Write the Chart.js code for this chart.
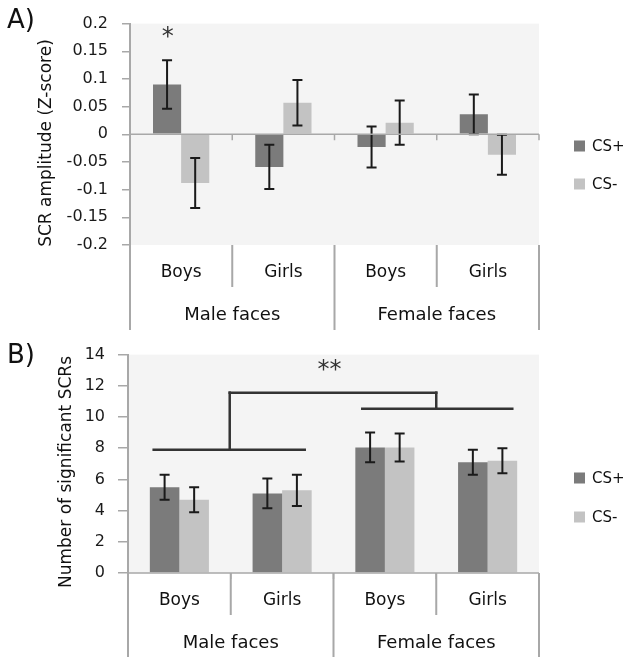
<!DOCTYPE html>
<html>
<head>
<meta charset="utf-8">
<script src="https://cdn.jsdelivr.net/npm/chart.js@4.4.1/dist/chart.umd.min.js"></script>
<style>
body { margin: 0; background: #fff; }
#wrap { width: 632px; height: 665px; position: relative; }
.panel { position: absolute; left: 0; width: 632px; }
#pA { top: 0; height: 332px; }
#pB { top: 332px; height: 333px; }
</style>
</head>
<body>
<div id="wrap">
  <div class="panel" id="pA"><canvas id="chartA" width="632" height="332"></canvas></div>
  <div class="panel" id="pB"><canvas id="chartB" width="632" height="333"></canvas></div>
</div>
<script>
// --- DATA ---
const subgroups = ['Boys', 'Girls', 'Boys', 'Girls'];
const faceGroups = ['Male faces', 'Female faces'];
const seriesNames = ['CS+', 'CS-'];

// A) SCR amplitude (Z-score)
const ampCSplus = [0.09, -0.059, -0.023, 0.036];
const ampCSminus = [-0.088, 0.057, 0.021, -0.037];
const ampErrPlus = [0.044, 0.04, 0.037, 0.036];
const ampErrMinus = [0.045, 0.041, 0.04, 0.036];
const ampTicks = ['-0.2', '-0.15', '-0.1', '-0.05', '0', '0.05', '0.1', '0.15', '0.2'];
const ampStars = [{ text: '*', x: -0.13, y: 0.184 }];

// B) Number of significant SCRs
const nCSplus = [5.5, 5.1, 8.05, 7.1];
const nCSminus = [4.7, 5.3, 8.05, 7.2];
const nErrPlus = [0.8, 0.95, 0.95, 0.8];
const nErrMinus = [0.8, 1.0, 0.9, 0.8];
const nTicks = ['0', '2', '4', '6', '8', '10', '12', '14'];
const nStars = [{ text: '**', x: 1.46, y: 13.36 }];
// bracket segments [x1, y1, x2, y2] in category / value units
const nBrackets = [
    [-0.25, 7.9, 1.22, 7.9],
    [0.49, 7.9, 0.49, 11.56],
    [0.49, 11.56, 2.5, 11.56],
    [2.5, 11.56, 2.5, 10.53],
    [1.78, 10.53, 3.24, 10.53]
];

const FONT = '"DejaVu Sans", Verdana, sans-serif';
const DARK = '#7b7b7b';
const LIGHT = '#c3c3c3';
const AXIS = '#a8a8a8';

// --- EXCEL-LIKE DECORATION PLUGIN ---
const excelPlugin = {
    id: 'excel',
    beforeDraw(chart) {
        const { ctx, chartArea: a } = chart;
        ctx.save();
        ctx.fillStyle = '#f4f4f4';
        ctx.fillRect(a.left, a.top, a.right - a.left, a.bottom - a.top);
        ctx.restore();
    },
    afterDatasetsDraw(chart) {
        const { ctx } = chart;
        const y = chart.scales.y;
        ctx.save();
        ctx.strokeStyle = '#1a1a1a';
        ctx.lineWidth = 2;
        chart.data.datasets.forEach((ds, di) => {
            chart.getDatasetMeta(di).data.forEach((bar, i) => {
                const v = ds.data[i], e = ds.errors[i];
                const y1 = y.getPixelForValue(v + e), y2 = y.getPixelForValue(v - e);
                ctx.beginPath();
                ctx.moveTo(bar.x, y1); ctx.lineTo(bar.x, y2);
                ctx.moveTo(bar.x - 5, y1); ctx.lineTo(bar.x + 5, y1);
                ctx.moveTo(bar.x - 5, y2); ctx.lineTo(bar.x + 5, y2);
                ctx.stroke();
            });
        });
        ctx.restore();
    },
    afterDraw(chart, args, o) {
        const { ctx, chartArea: a } = chart;
        const x = chart.scales.x, y = chart.scales.y;
        const y0 = y.getPixelForValue(0);
        ctx.save();

        // zero line with small ticks
        ctx.strokeStyle = AXIS;
        ctx.lineWidth = 1.5;
        ctx.beginPath();
        ctx.moveTo(a.left, y0); ctx.lineTo(a.right, y0);
        for (let k = 1; k <= subgroups.length; k++) {
            const bx = x.getPixelForValue(k - 0.5);
            ctx.moveTo(bx, y0); ctx.lineTo(bx, y0 + 6);
        }
        ctx.stroke();

        // category separators below the plot
        ctx.lineWidth = 2;
        ctx.beginPath();
        for (let k = 0; k <= subgroups.length; k++) {
            const bx = x.getPixelForValue(k - 0.5);
            const len = k % 2 === 0 ? o.outerLen : o.innerLen;
            ctx.moveTo(bx, a.bottom); ctx.lineTo(bx, a.bottom + len);
        }
        ctx.stroke();

        // category labels
        ctx.fillStyle = '#111';
        ctx.textAlign = 'center';
        ctx.textBaseline = 'middle';
        ctx.font = '17px ' + FONT;
        subgroups.forEach((s, i) => ctx.fillText(s, x.getPixelForValue(i), a.bottom + 28));
        ctx.font = '18px ' + FONT;
        faceGroups.forEach((g, i) => ctx.fillText(g, x.getPixelForValue(i * 2 + 0.5), a.bottom + 70));

        // y title
        ctx.save();
        ctx.translate(o.titleX, o.titleY);
        ctx.rotate(-Math.PI / 2);
        ctx.font = '17px ' + FONT;
        ctx.fillText(o.title, 0, 0);
        ctx.restore();

        // panel letter
        ctx.textAlign = 'left';
        ctx.font = '26px ' + FONT;
        ctx.fillText(o.panel, 7, o.panelY);

        // legend
        ctx.font = '15px ' + FONT;
        chart.data.datasets.forEach((ds, i) => {
            const ly = o.legendY[i];
            ctx.fillStyle = ds.backgroundColor;
            ctx.fillRect(574, ly - 5.5, 11, 11);
            ctx.fillStyle = '#111';
            ctx.fillText(ds.label, 592, ly + 1);
        });

        // brackets
        ctx.strokeStyle = '#333';
        ctx.lineWidth = 2.5;
        ctx.lineCap = 'square';
        (o.brackets || []).forEach(b => {
            ctx.beginPath();
            ctx.moveTo(x.getPixelForValue(b[0]), y.getPixelForValue(b[1]));
            ctx.lineTo(x.getPixelForValue(b[2]), y.getPixelForValue(b[3]));
            ctx.stroke();
        });

        // significance stars
        ctx.fillStyle = '#333';
        ctx.textAlign = 'center';
        ctx.textBaseline = 'alphabetic';
        ctx.font = '24px ' + FONT;
        (o.stars || []).forEach(s => {
            const m = ctx.measureText(s.text);
            const off = (m.actualBoundingBoxAscent - m.actualBoundingBoxDescent) / 2;
            ctx.fillText(s.text, x.getPixelForValue(s.x), y.getPixelForValue(s.y) + off);
        });

        ctx.restore();
    }
};

function makeChart(id, cfg) {
    return new Chart(document.getElementById(id), {
        type: 'bar',
        data: {
            labels: subgroups,
            datasets: [
                { label: seriesNames[0], data: cfg.plus, errors: cfg.errPlus, backgroundColor: DARK,
                  categoryPercentage: cfg.catPct, barPercentage: 1 },
                { label: seriesNames[1], data: cfg.minus, errors: cfg.errMinus, backgroundColor: LIGHT,
                  categoryPercentage: cfg.catPct, barPercentage: 1 }
            ]
        },
        options: {
            responsive: false,
            animation: false,
            layout: { padding: { top: cfg.padTop, right: 93, bottom: cfg.padBottom, left: 0 } },
            scales: {
                x: { display: false, offset: true },
                y: {
                    min: cfg.min,
                    max: cfg.max,
                    ticks: {
                        stepSize: cfg.step,
                        callback: (v, i) => cfg.tickLabels[i],
                        font: { family: FONT, size: 16 },
                        color: '#1a1a1a',
                        padding: cfg.tickPad
                    },
                    grid: { drawOnChartArea: false, tickLength: cfg.tickLen, color: AXIS, lineWidth: 1.5 },
                    border: { color: AXIS, width: 2 },
                    afterFit: s => { s.width = cfg.axisWidth; }
                }
            },
            plugins: {
                legend: { display: false },
                tooltip: { enabled: false },
                excel: cfg.deco
            }
        },
        plugins: [excelPlugin]
    });
}

makeChart('chartA', {
    plus: ampCSplus, minus: ampCSminus, errPlus: ampErrPlus, errMinus: ampErrMinus,
    min: -0.2, max: 0.2, step: 0.05, tickLabels: ampTicks,
    catPct: 0.55, padTop: 13, padBottom: 87, axisWidth: 130, tickLen: 8, tickPad: 14,
    deco: {
        outerLen: 85, innerLen: 42, title: 'SCR amplitude (Z-score)', titleX: 47, titleY: 143,
        panel: 'A)', panelY: 21, legendY: [146, 184], stars: ampStars, brackets: []
    }
});

makeChart('chartB', {
    plus: nCSplus, minus: nCSminus, errPlus: nErrPlus, errMinus: nErrMinus,
    min: 0, max: 14, step: 2, tickLabels: nTicks,
    catPct: 0.575, padTop: 21, padBottom: 92, axisWidth: 128, tickLen: 10, tickPad: 13,
    deco: {
        outerLen: 84, innerLen: 42, title: 'Number of significant SCRs', titleX: 67, titleY: 140,
        panel: 'B)', panelY: 24, legendY: [146, 185], stars: nStars, brackets: nBrackets
    }
});
</script>
</body>
</html>
